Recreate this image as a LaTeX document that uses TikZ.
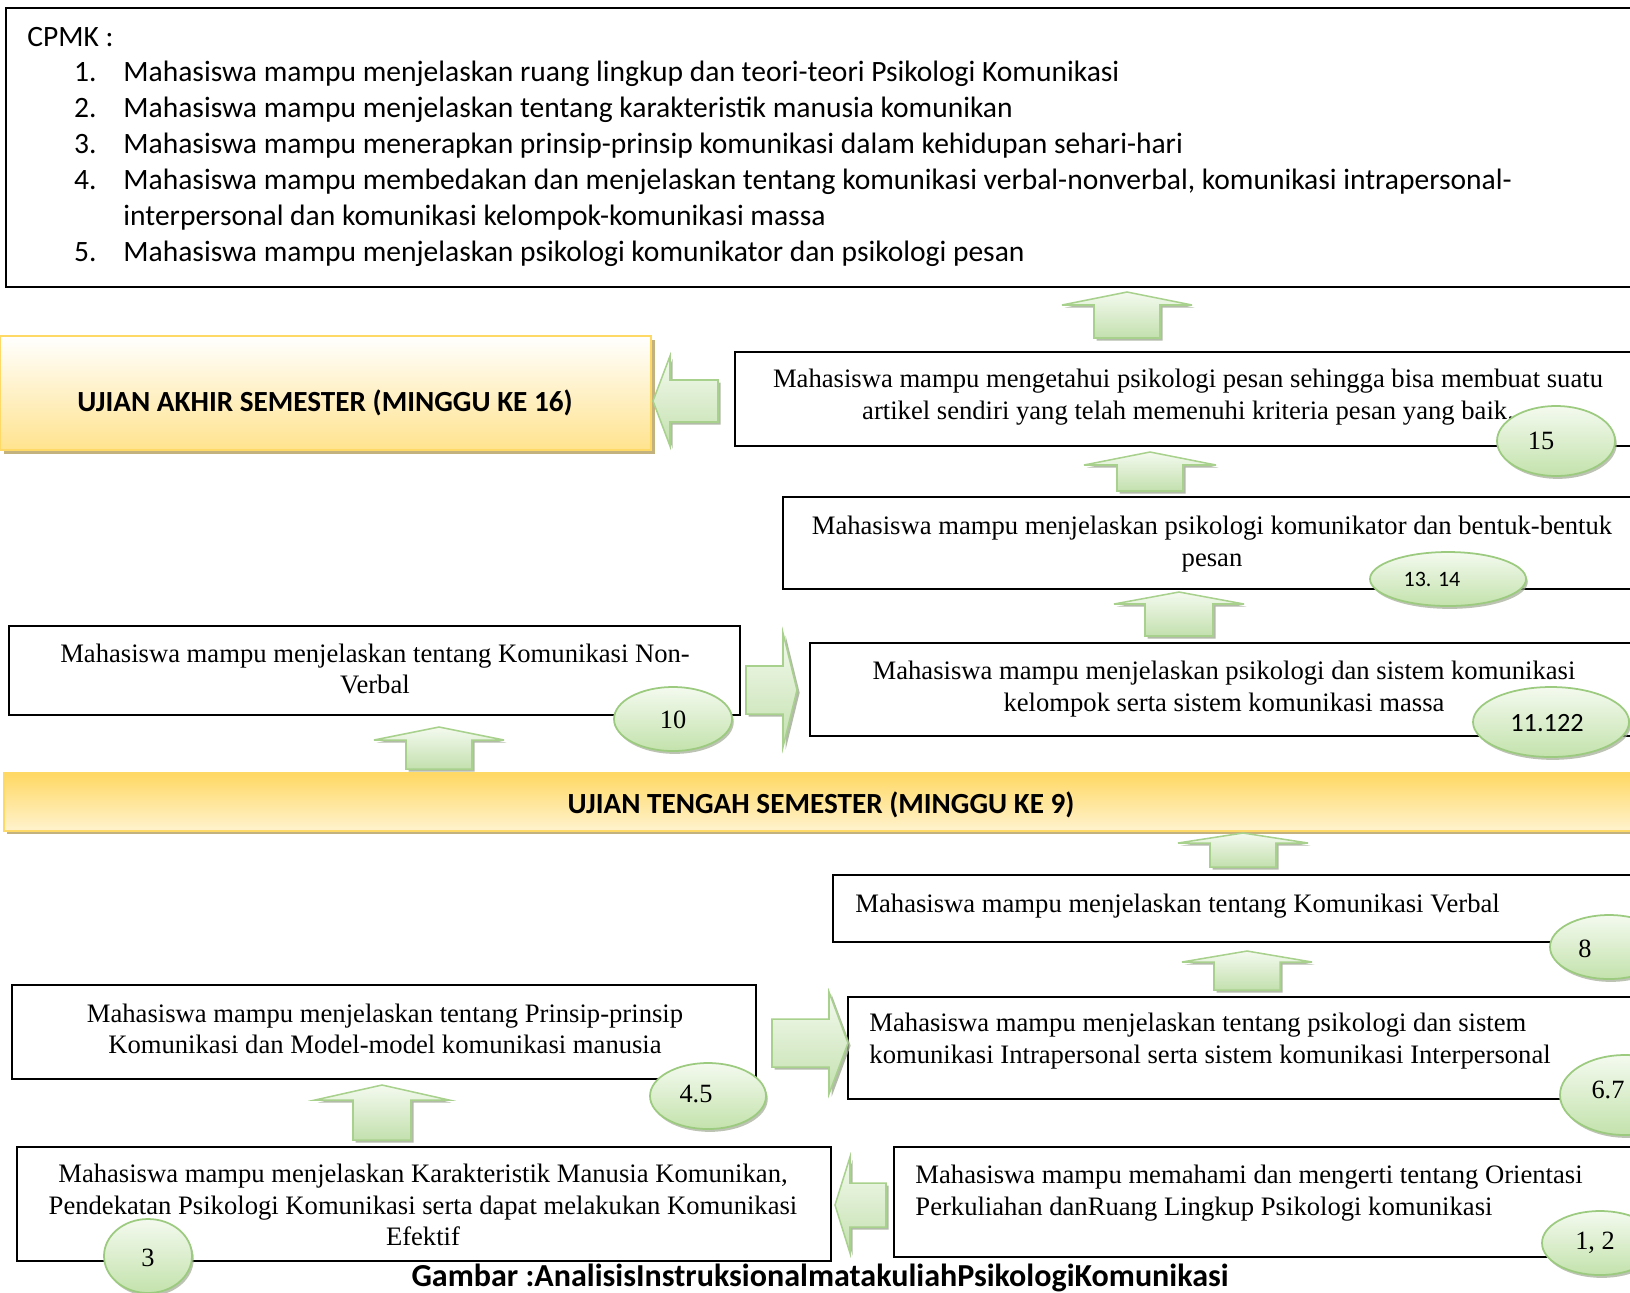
\documentclass[tikz,border=0pt]{standalone}
\usepackage{fontspec}
\setmainfont{Liberation Serif}
\newfontfamily\calibri{Carlito}
\usetikzlibrary{calc,fit,shapes.geometric,shadows}

\definecolor{arrline}{HTML}{A9D18E}
\definecolor{arrtop}{HTML}{F4FAEF}
\definecolor{arrbot}{HTML}{C3E0AE}
\definecolor{arrshadow}{HTML}{9FAA92}
\definecolor{ovalline}{HTML}{9CCB80}
\definecolor{ovaltop}{HTML}{F4FAEF}
\definecolor{ovalbot}{HTML}{C3E2AC}
\definecolor{bannerline}{HTML}{FFD966}
\definecolor{bannertop}{HTML}{FFD863}
\definecolor{bannerlight}{HTML}{FFF3CF}
\definecolor{banneryellow}{HTML}{FFE38E}
\definecolor{bannershadow}{HTML}{C4B27E}

\tikzset{
  box/.style={draw=black, line width=0.9pt, fill=white, inner sep=0pt},
  txt/.style={font=\fontsize{12.13}{14.4}\selectfont, inner sep=0pt, align=center},
  txtl/.style={txt, align=left, anchor=west},
  cpmk/.style={font=\calibri\fontsize{13.45}{16}\selectfont, inner sep=0pt,
               text height=9.3pt, text depth=3.3pt},
  bantxt/.style={font=\calibri\bfseries\fontsize{13.3}{16}\selectfont, inner sep=0pt},
  numtxt/.style={font=\fontsize{12}{14}\selectfont, inner sep=0pt},
  oval/.style 2 args={ellipse, draw=ovalline, line width=0.8pt, inner sep=0pt,
               top color=ovaltop, bottom color=ovalbot,
               minimum width=#1*0.016cm, minimum height=#2*0.016cm,
               drop shadow={shadow xshift=0.8pt, shadow yshift=-1.3pt, fill=arrshadow, opacity=0.7}},
  blockarr/.style={draw=arrline, line width=0.7pt, top color=arrtop, bottom color=arrbot,
               drop shadow={shadow xshift=1.2pt, shadow yshift=-1.2pt, fill=arrshadow, opacity=0.8}},
}

% #1 tail, #2 tip, #3 head length, #4 head half width, #5 shaft half width (px)
\newcommand{\blkarrow}[5]{%
  \coordinate (hb) at ($(#2)!#3*0.016cm!(#1)$);
  \path[blockarr] ($(#1)!#5*0.016cm!90:(#2)$) -- ($(hb)!#5*0.016cm!90:(#2)$)
    -- ($(hb)!#4*0.016cm!90:(#2)$) -- (#2) -- ($(hb)!#4*0.016cm!-90:(#2)$)
    -- ($(hb)!#5*0.016cm!-90:(#2)$) -- ($(#1)!#5*0.016cm!-90:(#2)$) -- cycle;
}

\begin{document}
\begin{tikzpicture}[x=0.016cm, y=-0.016cm]
\clip (0,0) rectangle (1630,1292);

%%% Kotak

% CPMK
\node [box, fit={(6,8) (1640,287)}] (cpmkbox) {};
\node [cpmk, anchor=west] (cpmk) at (27,40) {CPMK :};
\node [cpmk, anchor=east] (n1) at (97,75)  {1.};
\node [cpmk, anchor=east] (n2) at (97,111) {2.};
\node [cpmk, anchor=east] (n3) at (97,147) {3.};
\node [cpmk, anchor=east] (n4) at (97,183) {4.};
\node [cpmk, anchor=east] (n5) at (97,255) {5.};
\node [cpmk, anchor=west] (c1)  at (123,75)  {Mahasiswa mampu menjelaskan ruang lingkup dan teori-teori Psikologi Komunikasi};
\node [cpmk, anchor=west] (c2)  at (123,111) {Mahasiswa mampu menjelaskan tentang karakteristik manusia komunikan};
\node [cpmk, anchor=west] (c3)  at (123,147) {Mahasiswa mampu menerapkan prinsip-prinsip komunikasi dalam kehidupan sehari-hari};
\node [cpmk, anchor=west] (c4)  at (123,183) {Mahasiswa mampu membedakan dan menjelaskan tentang komunikasi verbal-nonverbal, komunikasi intrapersonal-};
\node [cpmk, anchor=west] (c4b) at (123,219) {interpersonal dan komunikasi kelompok-komunikasi massa};
\node [cpmk, anchor=west] (c5)  at (123,255) {Mahasiswa mampu menjelaskan psikologi komunikator dan psikologi pesan};

% UAS
\node [draw=bannerline, line width=0.9pt, inner sep=0pt, top color=white, bottom color=banneryellow,
       drop shadow={shadow xshift=1.8pt, shadow yshift=-1.8pt, fill=bannershadow, opacity=1},
       fit={(0,336) (651,450)}] (uas) {};
\node [bantxt] (uastxt) at (325,403) {UJIAN AKHIR SEMESTER (MINGGU KE 16)};

% UTS
\node [draw=bannerline, line width=0.6pt, inner sep=0pt, top color=bannertop, bottom color=bannerlight,
       drop shadow={shadow xshift=1.5pt, shadow yshift=-1.5pt, fill=bannershadow, opacity=1},
       fit={(4,773) (1640,831)}] (uts) {};
\node [bantxt] (utstxt) at (821,805) {UJIAN TENGAH SEMESTER (MINGGU KE 9)};

% minggu 15
\node [box, fit={(735,352) (1640,446)}] (b15) {};
\node [txt] (t15) at (1188,397) {Mahasiswa mampu mengetahui psikologi pesan sehingga bisa membuat suatu\\artikel sendiri yang telah memenuhi kriteria pesan yang baik.};

% minggu 13 14
\node [box, fit={(783,497) (1640,589)}] (b1314) {};
\node [txt] (t1314) at (1212,544) {Mahasiswa mampu menjelaskan psikologi komunikator dan bentuk-bentuk\\pesan};

% minggu 11 12
\node [box, fit={(810,643) (1640,736)}] (b11) {};
\node [txt] (t11) at (1224,689) {Mahasiswa mampu menjelaskan psikologi dan sistem komunikasi\\kelompok serta sistem komunikasi massa};

% minggu 10
\node [box, fit={(9,626) (740,715)}] (b10) {};
\node [txt] (t10) at (375,669) {Mahasiswa mampu menjelaskan tentang Komunikasi Non-\\Verbal};

% minggu 8
\node [box, fit={(833,875) (1640,942)}] (b8) {};
\node [txtl] (t8) at (855,906) {Mahasiswa mampu menjelaskan tentang Komunikasi Verbal};

% minggu 6 7
\node [box, fit={(848,997) (1640,1099)}] (b67) {};
\node [txtl] (t67) at (869,1041) {Mahasiswa mampu menjelaskan tentang psikologi dan sistem\\komunikasi Intrapersonal serta sistem komunikasi Interpersonal};

% minggu 4 5
\node [box, fit={(12,985) (756,1079)}] (b45) {};
\node [txt] (t45) at (385,1029) {Mahasiswa mampu menjelaskan tentang Prinsip-prinsip\\Komunikasi dan Model-model komunikasi manusia};

% minggu 3
\node [box, fit={(17,1147) (831,1261)}] (b3) {};
\node [txt] (t3) at (423,1205) {Mahasiswa mampu menjelaskan Karakteristik Manusia Komunikan,\\Pendekatan Psikologi Komunikasi serta dapat melakukan Komunikasi\\Efektif};

% minggu 1 2
\node [box, fit={(894,1147) (1640,1257)}] (b12) {};
\node [txtl] (t12) at (915,1193) {Mahasiswa mampu memahami dan mengerti tentang Orientasi\\Perkuliahan danRuang Lingkup Psikologi komunikasi};

%%% Panah

\coordinate (uAt) at (1127,338); \coordinate (uAh) at (1127,292);
\blkarrow{uAt}{uAh}{13}{65}{33}
\coordinate (lAt) at (718,401);  \coordinate (lAh) at (653,401);
\blkarrow{lAt}{lAh}{17}{45}{21}
\coordinate (uBt) at (1150,491); \coordinate (uBh) at (1150,452);
\blkarrow{uBt}{uBh}{13}{66}{33}
\coordinate (uCt) at (1179,636); \coordinate (uCh) at (1179,592);
\blkarrow{uCt}{uCh}{12}{65}{34}
\coordinate (rAt) at (746,690);  \coordinate (rAh) at (797,690);
\blkarrow{rAt}{rAh}{14}{57}{24}
\coordinate (uDt) at (439,769);  \coordinate (uDh) at (439,727);
\blkarrow{uDt}{uDh}{13}{65}{33}
\coordinate (uEt) at (1243,867); \coordinate (uEh) at (1243,833);
\blkarrow{uEt}{uEh}{10}{65}{33}
\coordinate (uFt) at (1247,990); \coordinate (uFh) at (1247,951);
\blkarrow{uFt}{uFh}{11}{65}{33}
\coordinate (rBt) at (772,1043); \coordinate (rBh) at (848,1043);
\blkarrow{rBt}{rBh}{19}{51}{24}
\coordinate (uGt) at (382,1140); \coordinate (uGh) at (382,1085);
\blkarrow{uGt}{uGh}{15}{67}{29}
\coordinate (lBt) at (886,1205); \coordinate (lBh) at (835,1205);
\blkarrow{lBt}{lBh}{15}{48}{22}

%%% Minggu

\node [oval={118}{70}] (o15) at (1556,441) {};
\node [numtxt] (l15) at (1541,441) {15};
\node [oval={156}{54}] (o1314) at (1448,579) {};
\node [numtxt, font=\calibri\fontsize{10}{12}\selectfont] (l1314) at (1432,579) {13. 14};
\node [oval={156}{70}] (o11) at (1551,722) {};
\node [numtxt, font=\calibri\fontsize{12}{14}\selectfont] (l11) at (1547,723) {11.122};
\node [oval={118}{64}] (o10) at (673,719) {};
\node [numtxt] (l10) at (673,720) {10};
\node [oval={118}{64}] (o8) at (1609,947) {};
\node [numtxt] (l8) at (1585,949) {8};
\node [oval={130}{80}] (o67) at (1625,1095) {};
\node [numtxt] (l67) at (1608,1090) {6.7};
\node [oval={116}{66}] (o45) at (708,1096) {};
\node [numtxt] (l45) at (696,1094) {4.5};
\node [oval={88}{74}] (o3) at (148,1256) {};
\node [numtxt] (l3) at (148,1258) {3};
\node [oval={116}{64}] (o12) at (1600,1243) {};
\node [numtxt] (l12) at (1595,1243) {1, 2};

% judul
\node [bantxt, font=\calibri\bfseries\fontsize{14.6}{17}\selectfont, anchor=base] (judul) at (820,1286) {Gambar :AnalisisInstruksionalmatakuliahPsikologiKomunikasi};

\end{tikzpicture}
\end{document}
